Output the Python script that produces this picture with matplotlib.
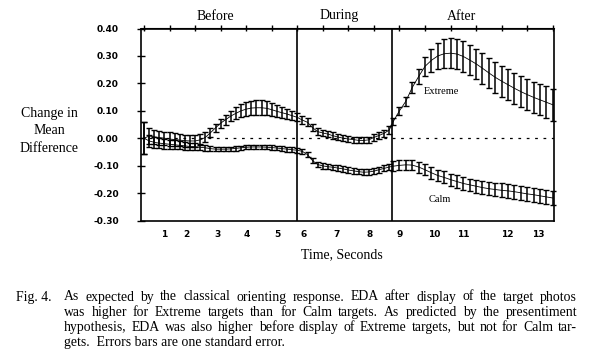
import matplotlib.pyplot as plt
import numpy as np

# time grid (top tick units), one list per phase of the trial
t_before = np.round(np.arange(0.0, 6.01, 0.2), 2)
t_during = np.round(np.arange(6.2, 9.61, 0.2), 2)
t_after = np.round(np.arange(9.75, 16.01, 0.25), 2)

extreme_before = [0.000, 0.008, 0.005, 0.002, 0.000, -0.003, -0.005, -0.007, -0.009, -0.010,
                  -0.010, -0.006, 0.003, 0.020, 0.038, 0.055, 0.068, 0.081, 0.091, 0.100,
                  0.106, 0.110, 0.111, 0.111, 0.109, 0.104, 0.098, 0.093, 0.088, 0.082, 0.076]
extreme_during = [0.066, 0.058, 0.038, 0.024, 0.019, 0.015, 0.009, 0.004, 0.000, -0.003,
                  -0.005, -0.008, -0.008, -0.006, 0.003, 0.010, 0.018, 0.030]
extreme_after = [0.060, 0.100, 0.135, 0.185, 0.225, 0.262, 0.284, 0.300, 0.308, 0.310,
                 0.307, 0.298, 0.285, 0.271, 0.255, 0.238, 0.222, 0.208, 0.195, 0.182,
                 0.170, 0.159, 0.149, 0.140, 0.131, 0.122]

extreme_err_before = [0.058, 0.028, 0.026, 0.025, 0.024, 0.024, 0.023, 0.023, 0.022, 0.022,
                      0.022, 0.020, 0.018, 0.016, 0.015, 0.016, 0.018, 0.020, 0.022, 0.024,
                      0.026, 0.027, 0.027, 0.027, 0.026, 0.024, 0.022, 0.020, 0.018, 0.016, 0.015]
extreme_err_during = [0.014, 0.014, 0.013, 0.013, 0.012, 0.012, 0.012, 0.011, 0.011, 0.011,
                      0.011, 0.011, 0.011, 0.011, 0.012, 0.012, 0.013, 0.015]
extreme_err_after = [0.012, 0.014, 0.016, 0.020, 0.026, 0.034, 0.041, 0.047, 0.052, 0.055,
                     0.056, 0.056, 0.056, 0.056, 0.056, 0.056, 0.056, 0.056, 0.056, 0.057,
                     0.057, 0.057, 0.057, 0.057, 0.058, 0.058]

calm_before = [0.000, -0.010, -0.015, -0.018, -0.020, -0.022, -0.024, -0.026, -0.028, -0.030,
               -0.031, -0.033, -0.035, -0.038, -0.040, -0.040, -0.040, -0.039, -0.037, -0.035,
               -0.033, -0.032, -0.032, -0.032, -0.033, -0.034, -0.036, -0.038, -0.040, -0.042, -0.044]
calm_during = [-0.048, -0.060, -0.082, -0.096, -0.101, -0.104, -0.106, -0.109, -0.112, -0.116,
               -0.119, -0.122, -0.124, -0.123, -0.120, -0.115, -0.110, -0.105]
calm_after = [-0.102, -0.099, -0.097, -0.098, -0.105, -0.115, -0.126, -0.136, -0.143, -0.151,
              -0.158, -0.165, -0.170, -0.175, -0.180, -0.184, -0.187, -0.190, -0.192, -0.195,
              -0.199, -0.203, -0.206, -0.210, -0.214, -0.218]

calm_err_before = [0.058, 0.022, 0.020, 0.019, 0.018, 0.017, 0.016, 0.015, 0.014, 0.013,
                   0.012, 0.011, 0.010, 0.009, 0.008, 0.008, 0.008, 0.008, 0.008, 0.008,
                   0.008, 0.008, 0.008, 0.008, 0.008, 0.008, 0.008, 0.009, 0.009, 0.009, 0.009]
calm_err_during = [0.009, 0.009, 0.010, 0.010, 0.010, 0.010, 0.010, 0.010, 0.010, 0.010,
                   0.010, 0.010, 0.010, 0.010, 0.010, 0.011, 0.011, 0.012]
calm_err_after = [0.018, 0.018, 0.019, 0.019, 0.020, 0.020, 0.021, 0.021, 0.022, 0.022,
                  0.023, 0.023, 0.023, 0.024, 0.024, 0.024, 0.025, 0.025, 0.025, 0.025,
                  0.025, 0.026, 0.026, 0.026, 0.026, 0.025]

phase_names = ["Before", "During", "After"]
phase_bounds = [6.0, 9.7]

sec_labels = [str(i) for i in range(1, 14)]
sec_pos = [0.77, 1.65, 2.88, 4.03, 5.2, 6.24, 7.55, 8.84, 10.0, 11.36, 12.5, 14.21, 15.42]
y_ticks = [0.4, 0.3, 0.2, 0.1, 0.0, -0.1, -0.2, -0.3]

caption = [
    "As expected by the classical orienting response.  EDA after display of the target photos",
    "was higher for Extreme targets than for Calm targets.  As predicted by the presentiment",
    "hypothesis, EDA was also higher before display of Extreme targets, but not for Calm tar-",
    "gets.  Errors bars are one standard error.",
]

W, H = 589, 358
serif = ["Liberation Serif", "DejaVu Serif"]

fig = plt.figure(figsize=(W / 100, H / 100), dpi=100)
fig.patch.set_facecolor("white")
ax = fig.add_axes([141 / W, 1 - 220.5 / H, 412.5 / W, 192 / H])

t = np.concatenate([t_before, t_during, t_after])
extreme = np.concatenate([extreme_before, extreme_during, extreme_after])
extreme_err = np.concatenate([extreme_err_before, extreme_err_during, extreme_err_after])
calm = np.concatenate([calm_before, calm_during, calm_after])
calm_err = np.concatenate([calm_err_before, calm_err_during, calm_err_after])

ax.axhline(0, color="black", lw=0.9, dashes=(2.2, 4.5), zorder=1)
for b in phase_bounds:
    ax.axvline(b, color="black", lw=1.2, zorder=2)

for y, e in [(extreme, extreme_err), (calm, calm_err)]:
    ax.errorbar(t, y, yerr=e, color="black", lw=0.6, elinewidth=1.1,
                capsize=2.3, capthick=1.0, zorder=3, clip_on=False)

ax.set_xlim(-0.12, 16.03)
ax.set_ylim(-0.3, 0.4)

for s in ax.spines.values():
    s.set_linewidth(1.2)

ax.set_yticks(y_ticks)
ax.set_yticklabels([f"{v:.2f}" for v in y_ticks], fontsize=6.5, fontweight="bold")
ax.tick_params(axis="y", direction="inout", length=6, width=1.0, pad=13)

ax.set_xticks(sec_pos)
ax.set_xticklabels(sec_labels, fontsize=6.5, fontweight="bold")
ax.tick_params(axis="x", length=0, pad=7)

top = ax.secondary_xaxis("top")
top.set_xticks(range(0, 17))
top.set_xticklabels([])
top.tick_params(direction="inout", length=5, width=1.0)

# phase titles
for name, px in zip(phase_names, [215, 339, 461]):
    fig.text(px / W, 1 - 16 / H, name, ha="center", va="center", family=serif, fontsize=10)

fig.text(342 / W, 1 - 255 / H, "Time, Seconds", ha="center", va="center", family=serif, fontsize=10)
fig.text(49 / W, 1 - 131 / H, "Change in\nMean\nDifference", ha="center", va="center",
         family=serif, fontsize=10, linespacing=1.45)

ax.text(11.63, 0.172, "Extreme", ha="center", va="center", family=serif, fontsize=7.5)
ax.text(11.59, -0.222, "Calm", ha="center", va="center", family=serif, fontsize=7.5)

# caption, justified lines
fs = 9.9
fig.text(16 / W, 1 - 297 / H, "Fig. 4.", ha="left", va="center", family=serif, fontsize=fs)
renderer = fig.canvas.get_renderer()
x0, x1 = 64, 577
for k, line in enumerate(caption):
    py = 1 - (297 + 15.3 * k) / H
    if k == len(caption) - 1:
        fig.text(x0 / W, py, line, ha="left", va="center", family=serif, fontsize=fs)
        continue
    words = line.split()
    items = [fig.text(0, py, w, ha="left", va="center", family=serif, fontsize=fs) for w in words]
    widths = [it.get_window_extent(renderer).width for it in items]
    gap = (x1 - x0 - sum(widths)) / (len(words) - 1)
    x = x0
    for it, w in zip(items, widths):
        it.set_x(x / W)
        x += w + gap

fig.savefig("out.png", dpi=100, facecolor="white")
